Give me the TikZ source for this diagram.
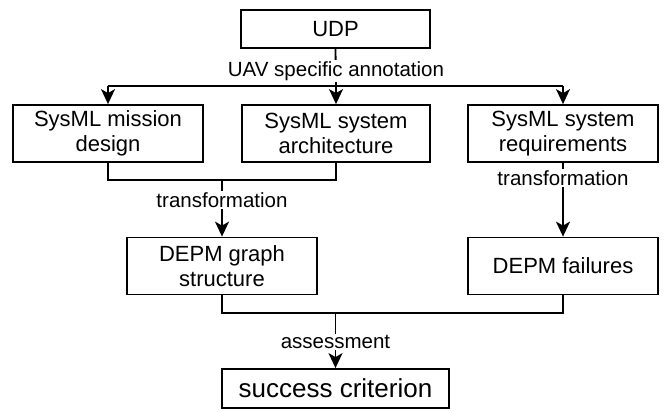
\documentclass[tikz,border=0pt]{standalone}
\usepackage{fontspec}
\setmainfont{Liberation Sans}
\usetikzlibrary{arrows.meta}
\begin{document}
\begin{tikzpicture}[x=1pt, y=-1pt,
    every path/.style={line width=1.8pt},
    box/.style={draw, line width=1.8pt, align=center, inner sep=0pt,
      font=\fontsize{22}{25}\selectfont},
    lbl/.style={fill=white, inner sep=1pt, font=\fontsize{20.5}{22}\selectfont},
    arr/.style={-{Stealth[length=15pt, width=14pt, inset=4pt]}}]
  \useasboundingbox (0,0) rectangle (667,412);

  % boxes
  \node[box, minimum width=189pt, minimum height=38pt] (udp) at (335.5,29) {UDP};
  \node[box, minimum width=190pt, minimum height=57pt] (mission) at (108,133.5) {SysML mission\\design};
  \node[box, minimum width=188pt, minimum height=57pt] (arch) at (336,133.5) {SysML system\\architecture};
  \node[box, minimum width=190pt, minimum height=57pt] (req) at (563,133.5) {SysML system\\requirements};
  \node[box, minimum width=190pt, minimum height=57pt] (graph) at (222,266) {DEPM graph\\structure};
  \node[box, minimum width=190pt, minimum height=57pt] (fail) at (563,266) {DEPM failures};
  \node[box, minimum width=227pt, minimum height=39pt,
        font=\fontsize{26}{29}\selectfont] (succ) at (335.5,388.5) {success criterion};

  % junction points
  \coordinate (jtop) at (336,86);
  \coordinate (jleft) at (mission.north |- jtop);
  \coordinate (jright) at (req.north |- jtop);
  \coordinate (jmid) at (222,180);
  \coordinate (jlow) at (335.5,313);

  % annotation fan-out
  \draw (udp.south) -- (jtop);
  \draw (jleft) -- (jright);
  \draw[arr] (jleft) -- (mission.north);
  \draw[arr] (jtop) -- (arch.north);
  \draw[arr] (jright) -- (req.north);

  % transformations
  \draw (mission.south) -- (mission.south |- jmid) -- (arch.south |- jmid) -- (arch.south);
  \draw[arr] (jmid) -- (graph.north);
  \draw[arr] (req.south) -- (fail.north);

  % assessment
  \draw (graph.south) -- (graph.south |- jlow) -- (fail.south |- jlow) -- (fail.south);
  \draw[arr] (jlow) -- (succ.north);

  % edge labels
  \node[lbl] (lannot) at (336,71) {UAV specific annotation};
  \node[lbl] (ltrans1) at (222,200) {transformation};
  \node[lbl] (ltrans2) at (563,178) {transformation};
  \node[lbl] (lassess) at (335.5,342) {assessment};
\end{tikzpicture}
\end{document}
